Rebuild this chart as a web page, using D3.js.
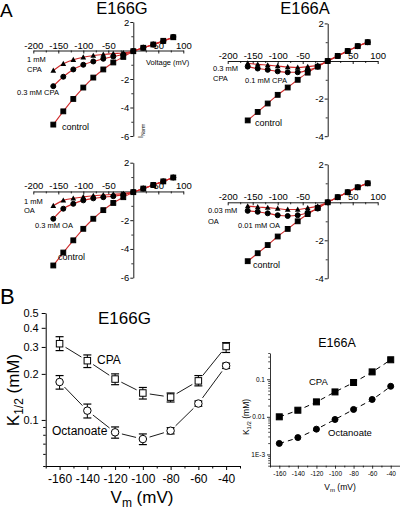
<!DOCTYPE html>
<html><head><meta charset="utf-8">
<script src="https://cdn.jsdelivr.net/npm/d3@7"></script>
<style>
body{margin:0;background:#fff}
svg{display:block}
text{font-family:"Liberation Sans",Arial,sans-serif;fill:#000}
</style>
</head><body><svg id="c" width="400" height="510"></svg>
<script>
// ---------- DATA ----------
const voltages = [-160,-140,-120,-100,-80,-60,-40,-20,0,20,40,60,80];
// E166G, CPA
const gCpaControl = [-5.2,-4.27,-3.4,-2.6,-1.9,-1.33,-0.84,-0.45,-0.05,0.19,0.42,0.68,0.93];
const gCpa1mM     = [-1.4,-0.93,-0.65,-0.47,-0.36,-0.28,-0.22,-0.17,-0.03,0.19,0.42,0.66,0.93];
const gCpa03mM    = [-2.5,-1.84,-1.33,-1.0,-0.77,-0.58,-0.42,-0.28,-0.04,0.2,0.42,0.65,0.95];
// E166A, CPA
const aCpaControl = [-3.16,-2.71,-2.26,-1.8,-1.41,-1.0,-0.62,-0.3,0.0,0.27,0.53,0.79,1.0];
const aCpa03mM    = [-0.12,-0.18,-0.22,-0.27,-0.32,-0.35,-0.3,-0.22,0.0,0.27,0.53,0.79,1.0];
const aCpa01mM    = [-0.3,-0.4,-0.47,-0.55,-0.6,-0.6,-0.5,-0.3,0.0,0.27,0.53,0.79,1.0];
// E166G, OA
const gOaControl  = [-5.15,-4.25,-3.4,-2.6,-1.9,-1.3,-0.8,-0.4,-0.05,0.2,0.45,0.7,0.97];
const gOa1mM      = [-1.0,-0.62,-0.48,-0.38,-0.3,-0.25,-0.2,-0.15,-0.03,0.2,0.45,0.7,0.97];
const gOa03mM     = [-1.9,-1.2,-0.86,-0.62,-0.48,-0.4,-0.33,-0.22,-0.04,0.2,0.45,0.7,0.97];
// E166A, OA
const aOaControl  = [-3.1,-2.68,-2.25,-1.8,-1.4,-1.0,-0.62,-0.3,0.0,0.27,0.53,0.79,1.0];
const aOa003mM    = [-0.2,-0.25,-0.28,-0.33,-0.38,-0.38,-0.3,-0.2,0.0,0.27,0.53,0.79,1.0];
const aOa001mM    = [-0.45,-0.5,-0.58,-0.68,-0.72,-0.68,-0.55,-0.33,0.0,0.27,0.53,0.79,1.0];

const ivXTicks = [-200,-150,-100,-50,0,50,100];
const ivYTicksG = [2,-2,-4,-6];
const ivYTicksA = [2,-2,-4];

// Panel B
const bVm = [-160,-140,-120,-100,-80,-60,-40];
const bXTicks = [-160,-140,-120,-100,-80,-60,-40];
const gK_CPA    = [0.315,0.244,0.185,0.15,0.141,0.18,0.302];
const gK_CPA_hi = [0.35,0.266,0.2,0.163,0.15,0.195,0.32];
const gK_CPA_lo = [0.284,0.22,0.17,0.137,0.131,0.167,0.276];
const gK_OA     = [0.177,0.115,0.083,0.075,0.085,0.128,0.226];
const gK_OA_hi  = [0.195,0.127,0.09,0.081,0.089,0.133,0.235];
const gK_OA_lo  = [0.159,0.103,0.076,0.069,0.081,0.123,0.217];
const aK_CPA    = [0.01,0.015,0.025,0.046,0.082,0.157,0.33];
const aK_OA     = [0.00196,0.0028,0.0047,0.0085,0.0157,0.029,0.065];
const bYTicksG  = [0.1,0.2,0.3,0.4,0.5];
const bYTicksA  = [0.001,0.01,0.1];
const bYTickLabelsA = ["1E-3","0.01","0.1"];

// ---------- DRAW ----------
const svg = d3.select("#c");
const RED = "#d02a2a";
const FONT = "Liberation Sans, Arial, sans-serif";
const plain = d => String(d);

function txt(g, x, y, s, size, anchor){
  return g.append("text").attr("x",x).attr("y",y).attr("font-size",size)
    .attr("text-anchor",anchor||"start").text(s);
}

function marker(g, type, x, y, size, fill){
  if(type==="square"){
    g.append("rect").attr("x",x-size/2).attr("y",y-size/2).attr("width",size).attr("height",size)
     .attr("fill",fill||"#000").attr("stroke","#000").attr("stroke-width",1);
  } else if(type==="circle"){
    g.append("circle").attr("cx",x).attr("cy",y).attr("r",size/2)
     .attr("fill",fill||"#000").attr("stroke","#000").attr("stroke-width",1);
  } else {
    const h=size*0.95, w=size*1.1;
    g.append("path").attr("d",`M${x},${y-h*0.6}L${x+w/2},${y+h*0.45}L${x-w/2},${y+h*0.45}Z`)
     .attr("fill",fill||"#000");
  }
}

function ivPanel(cfg){
  const g = svg.append("g");
  const x = d3.scaleLinear().domain([-200,100]).range(cfg.xr);
  const y = d3.scaleLinear().domain(cfg.yd).range(cfg.yr);
  const xa = d3.axisTop(x).tickValues(ivXTicks).tickSizeInner(-3).tickSizeOuter(0).tickPadding(2)
    .tickFormat(d=> d===0 ? "" : plain(d));
  const gx = g.append("g").attr("transform",`translate(0,${y(0)})`).call(xa);
  gx.selectAll("text").attr("font-size",9.5).attr("font-family",FONT).attr("fill","#000");
  gx.selectAll("line,path").attr("stroke","#000").attr("stroke-width",0.9);
  const xm = d3.axisTop(x).tickValues(d3.range(-175,100,50)).tickSizeInner(-2).tickSizeOuter(0).tickFormat("");
  const gxm = g.append("g").attr("transform",`translate(0,${y(0)})`).call(xm);
  gxm.select(".domain").remove();
  gxm.selectAll("line").attr("stroke","#000").attr("stroke-width",0.8);
  const ya = d3.axisLeft(y).tickValues(cfg.yt).tickSizeInner(3).tickSizeOuter(0).tickPadding(1).tickFormat(plain);
  const gy = g.append("g").attr("transform",`translate(${x(0)},0)`).call(ya);
  gy.selectAll("text").attr("font-size",9.5).attr("font-family",FONT).attr("fill","#000");
  gy.selectAll("line,path").attr("stroke","#000").attr("stroke-width",0.9);
  const ym = d3.axisLeft(y).tickValues(d3.range(cfg.yd[1]+1, cfg.yd[0], 2)).tickSizeInner(2).tickSizeOuter(0).tickFormat("");
  const gym = g.append("g").attr("transform",`translate(${x(0)},0)`).call(ym);
  gym.select(".domain").remove();
  gym.selectAll("line").attr("stroke","#000").attr("stroke-width",0.8);

  const line = d3.line().x(d=>x(d[0])).y(d=>y(d[1])).curve(d3.curveMonotoneX);
  cfg.series.forEach(s=>{
    const pts = voltages.map((v,i)=>[v,s.vals[i]]);
    g.append("path").attr("d",line(pts)).attr("fill","none").attr("stroke",RED).attr("stroke-width",1.1);
  });
  cfg.series.forEach(s=>{
    voltages.forEach((v,i)=>marker(g, s.type, x(v), y(s.vals[i]), s.type==="triangle"?5.2:(s.type==="circle"?5:4.8)));
  });
  cfg.labels.forEach(l=>txt(g,l[0],l[1],l[2],l[3]));
  if(cfg.title) txt(g,cfg.title[0],cfg.title[1],cfg.title[2],16.5,"middle");
  return {g,x,y};
}

// Panel letters
txt(svg,0,17,"A",19);
txt(svg,0,304,"B",22);

const p1 = ivPanel({xr:[33.3,183.3], yd:[2,-6], yr:[22,136], yt:ivYTicksG,
  series:[{vals:gCpaControl,type:"square"},{vals:gCpa03mM,type:"circle"},{vals:gCpa1mM,type:"triangle"}],
  labels:[[27,62,"1 mM",7.5],[27,72,"CPA",7.5],[17,95,"0.3 mM CPA",7.5],[62,130,"control",9]],
  title:[122,14,"E166G"]});
txt(p1.g,146,65,"Voltage (mV)",7.5);
p1.g.append("text").attr("transform","translate(143,138) rotate(-90)").attr("font-size",7).text("I").append("tspan").attr("font-size",5).attr("dy",1.5).text("Norm");

ivPanel({xr:[227.7,377.7], yd:[2,-4], yr:[23.4,136.2], yt:ivYTicksA,
  series:[{vals:aCpaControl,type:"square"},{vals:aCpa01mM,type:"circle"},{vals:aCpa03mM,type:"triangle"}],
  labels:[[213,71,"0.3 mM",7.5],[213,81,"CPA",7.5],[245,83,"0.1 mM CPA",7.5],[255,126,"control",9]],
  title:[305,14,"E166A"]});

ivPanel({xr:[33.3,183.3], yd:[2,-6], yr:[162.7,277.7], yt:ivYTicksG,
  series:[{vals:gOaControl,type:"square"},{vals:gOa03mM,type:"circle"},{vals:gOa1mM,type:"triangle"}],
  labels:[[24,204,"1  mM",7.5],[24,213,"OA",7.5],[35,228,"0.3 mM OA",7.5],[58,260,"control",9]]});

ivPanel({xr:[227.7,377.7], yd:[2,-4], yr:[164.3,278.3], yt:ivYTicksA,
  series:[{vals:aOaControl,type:"square"},{vals:aOa001mM,type:"circle"},{vals:aOa003mM,type:"triangle"}],
  labels:[[208,213,"0.03 mM",7.5],[208,224,"OA",7.5],[238,228,"0.01 mM OA",7.5],[253,268,"control",9]]});

// ---------- Panel B left (E166G) ----------
(function(){
  const g = svg.append("g");
  const x = d3.scaleLinear().domain([-170,-30]).range([45.7,240]);
  const y = d3.scaleLog().domain([0.05,0.5]).range([466,313]);
  const xa = d3.axisBottom(x).tickValues(bXTicks).tickSizeInner(4).tickSizeOuter(0).tickPadding(4).tickFormat(plain);
  const gx = g.append("g").attr("transform","translate(0,466)").call(xa);
  gx.selectAll("text").attr("font-size",12).attr("font-family",FONT).attr("fill","#000");
  gx.selectAll("line,path").attr("stroke","#000").attr("stroke-width",1);
  const xm = d3.axisBottom(x).tickValues(d3.range(-170,-29,20)).tickSizeInner(2.5).tickSizeOuter(0).tickFormat("");
  const gxm = g.append("g").attr("transform","translate(0,466)").call(xm);
  gxm.select(".domain").remove(); gxm.selectAll("line").attr("stroke","#000");
  const ya = d3.axisLeft(y).tickValues(bYTicksG).tickSizeInner(4).tickSizeOuter(0).tickPadding(3).tickFormat(d3.format(".1f"));
  const gy = g.append("g").attr("transform","translate(45.7,0)").call(ya);
  gy.selectAll("text").attr("font-size",11).attr("font-family",FONT).attr("fill","#000");
  gy.selectAll("line,path").attr("stroke","#000").attr("stroke-width",1);
  const ym = d3.axisLeft(y).tickValues([0.05,0.06,0.07,0.08,0.09]).tickSizeInner(2.5).tickSizeOuter(0).tickFormat("");
  const gym = g.append("g").attr("transform","translate(45.7,0)").call(ym);
  gym.select(".domain").remove(); gym.selectAll("line").attr("stroke","#000");

  function gapLines(vals, gap){
    for(let i=0;i<vals.length-1;i++){
      const x1=x(bVm[i]), y1=y(vals[i]), x2=x(bVm[i+1]), y2=y(vals[i+1]);
      const L=Math.hypot(x2-x1,y2-y1), ux=(x2-x1)/L, uy=(y2-y1)/L;
      g.append("line").attr("x1",x1+ux*gap).attr("y1",y1+uy*gap).attr("x2",x2-ux*gap).attr("y2",y2-uy*gap)
        .attr("stroke","#000").attr("stroke-width",0.9);
    }
  }
  function errs(lo, hi){
    bVm.forEach((v,i)=>{
      const cx=x(v);
      g.append("line").attr("x1",cx).attr("x2",cx).attr("y1",y(lo[i])).attr("y2",y(hi[i])).attr("stroke","#000").attr("stroke-width",1);
      [lo[i],hi[i]].forEach(e=>g.append("line").attr("x1",cx-4).attr("x2",cx+4).attr("y1",y(e)).attr("y2",y(e)).attr("stroke","#000").attr("stroke-width",1.2));
    });
  }
  gapLines(gK_CPA,7); gapLines(gK_OA,7);
  errs(gK_CPA_lo,gK_CPA_hi); errs(gK_OA_lo,gK_OA_hi);
  bVm.forEach((v,i)=>marker(g,"square",x(v),y(gK_CPA[i]),6.5,"#fff"));
  bVm.forEach((v,i)=>marker(g,"circle",x(v),y(gK_OA[i]),7.5,"#fff"));

  txt(g,124.5,324,"E166G",17,"middle");
  txt(g,97,364,"CPA",12);
  txt(g,52,435,"Octanoate",12);
  const xl = g.append("text").attr("x",142).attr("y",503).attr("font-size",17).attr("text-anchor","middle");
  xl.append("tspan").text("V");
  xl.append("tspan").attr("font-size",12).attr("dy",4).text("m");
  xl.append("tspan").attr("dy",-4).text(" (mV)");
  const yl = g.append("text").attr("transform","translate(19,390) rotate(-90)").attr("font-size",17).attr("text-anchor","middle");
  yl.append("tspan").text("K");
  yl.append("tspan").attr("font-size",12).attr("dy",4).text("1/2");
  yl.append("tspan").attr("dy",-4).text(" (mM)");
})();

// ---------- Panel B right (E166A) ----------
(function(){
  const g = svg.append("g");
  const x = d3.scaleLinear().domain([-170,-30]).range([270,400]);
  const y = d3.scaleLog().domain([0.0005,0.5]).range([465.7,353]);
  const xa = d3.axisBottom(x).tickValues(bXTicks).tickSizeInner(3).tickSizeOuter(0).tickPadding(3).tickFormat(plain);
  const gx = g.append("g").attr("transform","translate(0,465.7)").call(xa);
  gx.selectAll("text").attr("font-size",6.5).attr("font-family",FONT).attr("fill","#000");
  gx.selectAll("line,path").attr("stroke","#000").attr("stroke-width",0.8);
  const xm = d3.axisBottom(x).tickValues(d3.range(-170,-29,20)).tickSizeInner(1.8).tickSizeOuter(0).tickFormat("");
  const gxm = g.append("g").attr("transform","translate(0,465.7)").call(xm);
  gxm.select(".domain").remove(); gxm.selectAll("line").attr("stroke","#000").attr("stroke-width",0.8);
  const ya = d3.axisLeft(y).tickValues(bYTicksA).tickSizeInner(3).tickSizeOuter(0).tickPadding(2)
    .tickFormat((d,i)=>bYTickLabelsA[i]);
  const gy = g.append("g").attr("transform","translate(270,0)").call(ya);
  gy.selectAll("text").attr("font-size",6.5).attr("font-family",FONT).attr("fill","#000");
  gy.selectAll("line,path").attr("stroke","#000").attr("stroke-width",0.8);
  const minor=[];
  [0.0001,0.001,0.01,0.1].forEach(d=>{for(let k=2;k<=9;k++){const v=d*k; if(v>=0.0005&&v<=0.5) minor.push(v);}});
  const ym = d3.axisLeft(y).tickValues(minor).tickSizeInner(1.8).tickSizeOuter(0).tickFormat("");
  const gym = g.append("g").attr("transform","translate(270,0)").call(ym);
  gym.select(".domain").remove(); gym.selectAll("line").attr("stroke","#000").attr("stroke-width",0.7);

  const line = d3.line().x((d,i)=>x(bVm[i])).y(d=>y(d)).curve(d3.curveMonotoneX);
  [aK_CPA,aK_OA].forEach(s=>g.append("path").attr("d",line(s)).attr("fill","none").attr("stroke","#000")
     .attr("stroke-width",1).attr("stroke-dasharray","5,4"));
  bVm.forEach((v,i)=>marker(g,"square",x(v),y(aK_CPA[i]),6));
  bVm.forEach((v,i)=>marker(g,"circle",x(v),y(aK_OA[i]),6));

  txt(g,337,347,"E166A",12.5,"middle");
  txt(g,309,385,"CPA",9.5);
  txt(g,328,436,"Octanoate",9.5);
  const xl = g.append("text").attr("x",340).attr("y",490).attr("font-size",8.5).attr("text-anchor","middle");
  xl.append("tspan").text("V");
  xl.append("tspan").attr("font-size",6).attr("dy",2).text("m");
  xl.append("tspan").attr("dy",-2).text(" (mV)");
  const yl = g.append("text").attr("transform","translate(249,417) rotate(-90)").attr("font-size",8.5).attr("text-anchor","middle");
  yl.append("tspan").text("K");
  yl.append("tspan").attr("font-size",6).attr("dy",2).text("1/2");
  yl.append("tspan").attr("dy",-2).text(" (mM)");
})();
</script>
</body></html>
